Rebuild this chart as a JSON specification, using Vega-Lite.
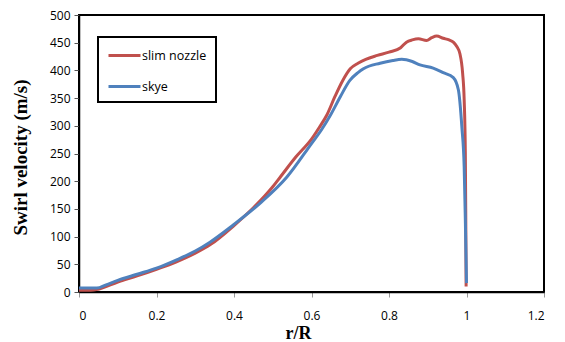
{
  "$schema": "https://vega.github.io/schema/vega-lite/v6.json",
  "width": 465,
  "height": 277,
  "autosize": "none",
  "padding": {"left": 79, "top": 15, "right": 21, "bottom": 50},
  "config": {
    "view": {"stroke": "black", "strokeWidth": 2},
    "font": "Open Sans"
  },
  "data": {
    "values": [
      {"r": 0, "v": 3, "s": "slim nozzle"},
      {"r": 0.03, "v": 3, "s": "slim nozzle"},
      {"r": 0.05, "v": 5, "s": "slim nozzle"},
      {"r": 0.1, "v": 18, "s": "slim nozzle"},
      {"r": 0.15, "v": 29, "s": "slim nozzle"},
      {"r": 0.2, "v": 41, "s": "slim nozzle"},
      {"r": 0.25, "v": 54, "s": "slim nozzle"},
      {"r": 0.3, "v": 70, "s": "slim nozzle"},
      {"r": 0.34, "v": 86, "s": "slim nozzle"},
      {"r": 0.4, "v": 120, "s": "slim nozzle"},
      {"r": 0.45, "v": 152, "s": "slim nozzle"},
      {"r": 0.5, "v": 190, "s": "slim nozzle"},
      {"r": 0.52, "v": 208, "s": "slim nozzle"},
      {"r": 0.56, "v": 244, "s": "slim nozzle"},
      {"r": 0.6, "v": 276, "s": "slim nozzle"},
      {"r": 0.62, "v": 297, "s": "slim nozzle"},
      {"r": 0.64, "v": 320, "s": "slim nozzle"},
      {"r": 0.66, "v": 352, "s": "slim nozzle"},
      {"r": 0.68, "v": 381, "s": "slim nozzle"},
      {"r": 0.7, "v": 403, "s": "slim nozzle"},
      {"r": 0.72, "v": 413, "s": "slim nozzle"},
      {"r": 0.74, "v": 420, "s": "slim nozzle"},
      {"r": 0.77, "v": 427, "s": "slim nozzle"},
      {"r": 0.8, "v": 433, "s": "slim nozzle"},
      {"r": 0.83, "v": 441, "s": "slim nozzle"},
      {"r": 0.845, "v": 451, "s": "slim nozzle"},
      {"r": 0.86, "v": 455, "s": "slim nozzle"},
      {"r": 0.876, "v": 457, "s": "slim nozzle"},
      {"r": 0.897, "v": 454, "s": "slim nozzle"},
      {"r": 0.91, "v": 459, "s": "slim nozzle"},
      {"r": 0.923, "v": 462, "s": "slim nozzle"},
      {"r": 0.94, "v": 458, "s": "slim nozzle"},
      {"r": 0.955, "v": 455, "s": "slim nozzle"},
      {"r": 0.966, "v": 451, "s": "slim nozzle"},
      {"r": 0.975, "v": 443, "s": "slim nozzle"},
      {"r": 0.983, "v": 430, "s": "slim nozzle"},
      {"r": 0.99, "v": 395, "s": "slim nozzle"},
      {"r": 0.994, "v": 347, "s": "slim nozzle"},
      {"r": 0.997, "v": 250, "s": "slim nozzle"},
      {"r": 0.998, "v": 150, "s": "slim nozzle"},
      {"r": 0.999, "v": 10, "s": "slim nozzle"},
      {"r": 0, "v": 7, "s": "skye"},
      {"r": 0.046, "v": 7, "s": "skye"},
      {"r": 0.07, "v": 13, "s": "skye"},
      {"r": 0.1, "v": 21, "s": "skye"},
      {"r": 0.15, "v": 32, "s": "skye"},
      {"r": 0.2, "v": 43, "s": "skye"},
      {"r": 0.252, "v": 58, "s": "skye"},
      {"r": 0.3, "v": 74, "s": "skye"},
      {"r": 0.338, "v": 90, "s": "skye"},
      {"r": 0.398, "v": 121, "s": "skye"},
      {"r": 0.467, "v": 160, "s": "skye"},
      {"r": 0.536, "v": 207, "s": "skye"},
      {"r": 0.6, "v": 268, "s": "skye"},
      {"r": 0.625, "v": 292, "s": "skye"},
      {"r": 0.648, "v": 318, "s": "skye"},
      {"r": 0.674, "v": 352, "s": "skye"},
      {"r": 0.699, "v": 382, "s": "skye"},
      {"r": 0.72, "v": 396, "s": "skye"},
      {"r": 0.734, "v": 403, "s": "skye"},
      {"r": 0.777, "v": 413, "s": "skye"},
      {"r": 0.81, "v": 418, "s": "skye"},
      {"r": 0.833, "v": 420, "s": "skye"},
      {"r": 0.86, "v": 416, "s": "skye"},
      {"r": 0.88, "v": 410, "s": "skye"},
      {"r": 0.914, "v": 404, "s": "skye"},
      {"r": 0.94, "v": 396, "s": "skye"},
      {"r": 0.966, "v": 387, "s": "skye"},
      {"r": 0.979, "v": 365, "s": "skye"},
      {"r": 0.988, "v": 298, "s": "skye"},
      {"r": 0.994, "v": 226, "s": "skye"},
      {"r": 0.997, "v": 130, "s": "skye"},
      {"r": 1.0, "v": 16, "s": "skye"}
    ]
  },
  "mark": {"type": "line", "strokeWidth": 3, "clip": true, "interpolate": "monotone"},
  "encoding": {
    "x": {
      "field": "r", "type": "quantitative",
      "scale": {"domain": [0, 1.2], "nice": false},
      "axis": {
        "title": "r/R", "values": [0, 0.2, 0.4, 0.6, 0.8, 1, 1.2],
        "grid": false, "domainColor": "black", "domainWidth": 1.5,
        "tickColor": "#999", "tickSize": 5, "labelPadding": 13,
        "labelFontSize": 12, "labelColor": "black", "labelFont": "Open Sans",
        "titleFont": "Liberation Serif", "titleFontSize": 18, "titleFontWeight": "bold",
        "titleColor": "black", "titleX": 219, "titleY": 46, "titleBaseline": "alphabetic",
        "format": "~g"
      }
    },
    "y": {
      "field": "v", "type": "quantitative",
      "scale": {"domain": [0, 500], "nice": false},
      "axis": {
        "title": "Swirl velocity  (m/s)", "values": [0, 50, 100, 150, 200, 250, 300, 350, 400, 450, 500],
        "grid": false, "domainColor": "black", "domainWidth": 1.5,
        "tickColor": "#555", "tickSize": 5, "labelPadding": 4,
        "labelFontSize": 12, "labelColor": "black", "labelFont": "Open Sans",
        "titleFont": "Liberation Serif", "titleFontSize": 19, "titleFontWeight": "bold",
        "titleColor": "black", "titleX": -59, "titleY": 142, "titleBaseline": "middle", "titleAngle": -90
      }
    },
    "color": {
      "field": "s", "type": "nominal",
      "scale": {"domain": ["slim nozzle", "skye"], "range": ["#C0504D", "#4F81BD"]},
      "legend": {
        "title": null, "orient": "none", "legendX": 19, "legendY": 22,
        "symbolType": "M-1,0H3", "symbolSize": 256, "symbolStrokeWidth": 3,
        "labelFontSize": 12.5, "labelFont": "Open Sans", "labelColor": "black",
        "strokeColor": "black", "padding": 9, "rowPadding": 15,
        "labelOffset": 16, "fillColor": "white",
        "encode": {"legend": {"update": {"strokeWidth": {"value": 2}}}}
      }
    }
  }
}
